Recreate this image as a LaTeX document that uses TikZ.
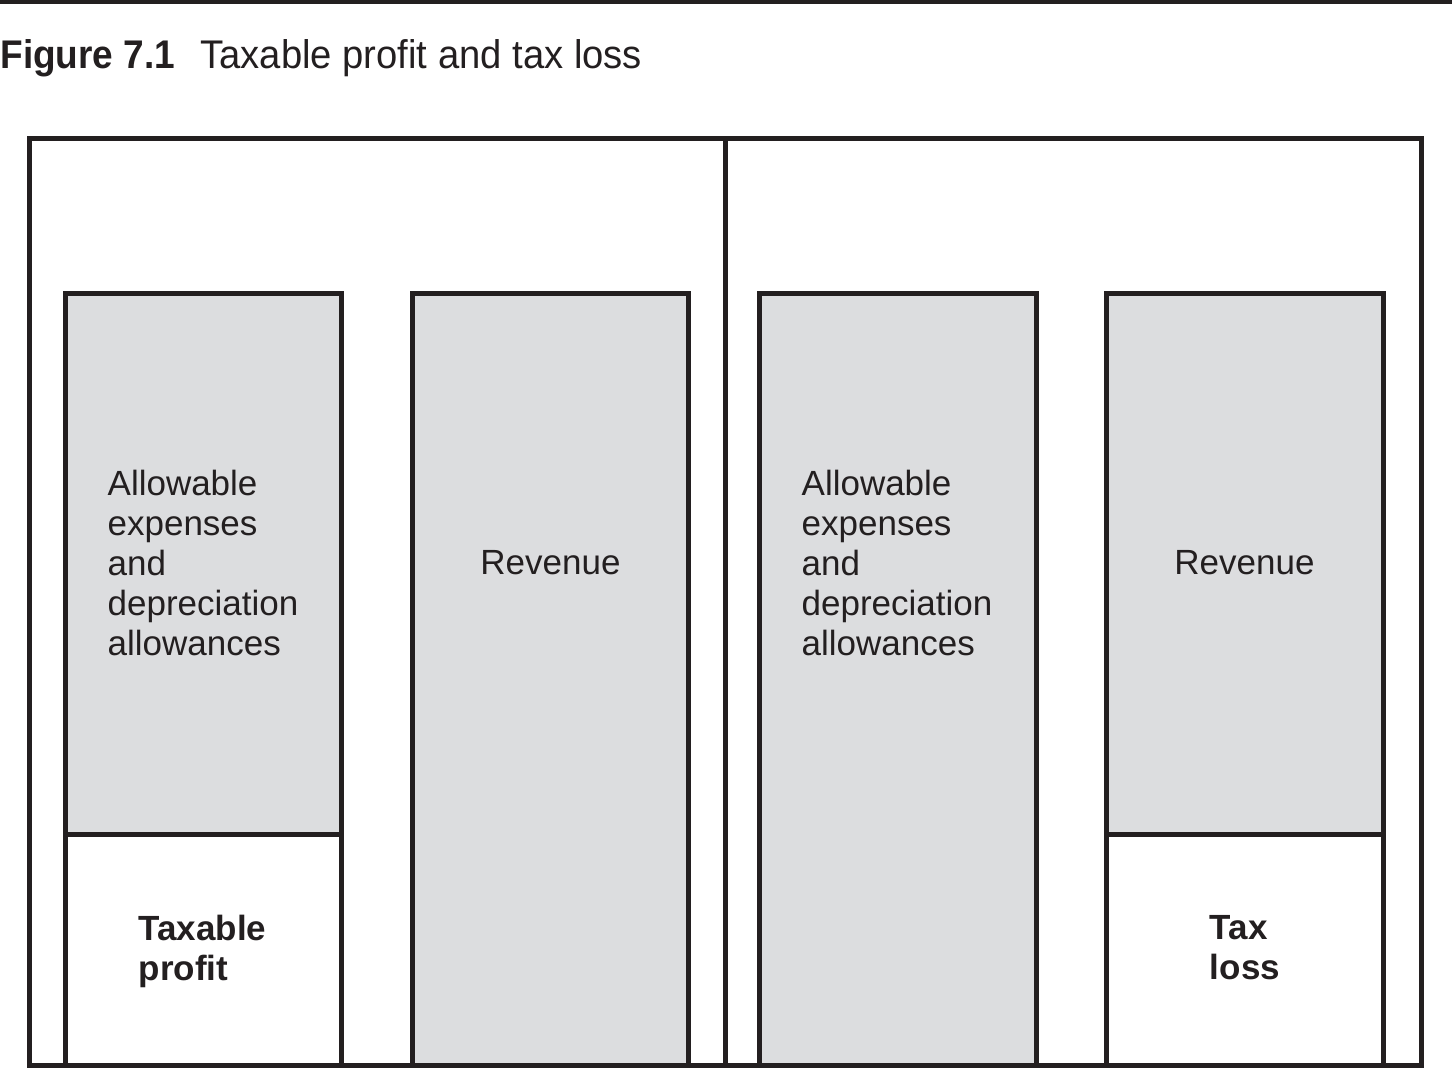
\documentclass[tikz,border=0pt]{standalone}
\usepackage{fontspec}
\setmainfont{Liberation Sans}
\newfontfamily\figfont[FakeStretch=0.925]{Liberation Sans}
\newfontfamily\titlefont[FakeStretch=0.955]{Liberation Sans}

\definecolor{ink}{HTML}{231F20}
\definecolor{boxgray}{HTML}{DCDDDF}

\tikzset{
    box/.style={draw=ink, line width=2.5pt},
    shaded/.style={box, fill=boxgray},
    body/.style={font=\fontsize{17.5}{20}\selectfont, align=left},
    tag/.style={font=\fontsize{17.5}{20}\selectfont\bfseries, align=left}
}

\begin{document}
\begin{tikzpicture}[
            x=0.5pt, y=-0.5pt,
            every node/.style={inner sep=0pt, text=ink}
        ]

        \useasboundingbox (0,0) rectangle (1452,1068);

        % caption
        \draw[ink, line width=2pt] (0,2) -- (1452,2);
        \node[anchor=base west, font=\figfont\fontsize{20}{24}\selectfont\bfseries] (fig) at (0,69) {Figure 7.1};
        \node[anchor=base west, font=\titlefont\fontsize{20}{24}\selectfont] (title) at (200,69) {Taxable profit and tax loss};

        % frame
        \draw[box] (29.5,139) rectangle (1421,1065);
        \draw[box] (725.5,139) -- (725.5,1065);

        % profit side
        \draw[shaded] (65,294) rectangle (341.5,834.5);
        \draw[box] (65,834.5) rectangle (341.5,1065);
        \draw[shaded] (412,294) rectangle (688.5,1065);

        % loss side
        \draw[shaded] (759.5,294) rectangle (1036,1065);
        \draw[shaded] (1106.5,294) rectangle (1383.5,834.5);
        \draw[box] (1106.5,834.5) rectangle (1383.5,1065);

        \node[body] (expL) at (203,562.5) {Allowable\\expenses\\and\\depreciation\\allowances};
        \node[body] (revL) at (550.5,562.5) {Revenue};
        \node[tag] (profit) at (202.5,951) {Taxable\\profit};

        \node[body] (expR) at (897,562.5) {Allowable\\expenses\\and\\depreciation\\allowances};
        \node[body] (revR) at (1244.5,562.5) {Revenue};
        \node[tag] (loss) at (1245,947.5) {Tax\\loss};

    \end{tikzpicture}
\end{document}
